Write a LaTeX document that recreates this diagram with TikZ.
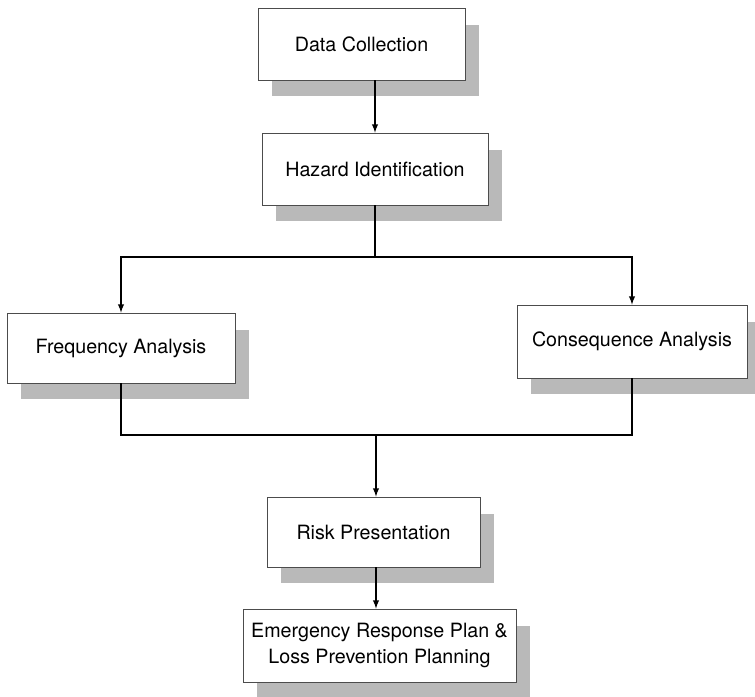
\documentclass[tikz,border=0pt]{standalone}
\usepackage{fontspec}
\setmainfont{TeX Gyre Heros}
\usepackage{tikz}
\usetikzlibrary{arrows,shadows,positioning}

\begin{document}
\begin{tikzpicture}[x=0.02cm,y=-0.02cm,
  stepbox/.style={draw=black!70,line width=0.5pt,fill=white,inner sep=0pt,
    align=center,font=\fontsize{11.2}{15.3}\selectfont,
    drop shadow={shadow xshift=0.28cm,shadow yshift=-0.33cm,fill=gray!55,opacity=1}},
  flow/.style={line width=0.6pt}]
\useasboundingbox (0,0) rectangle (755,697);
% boxes
\node[stepbox,minimum width=4.14cm,minimum height=1.44cm] (data) at (361.5,44) {Data Collection};
\node[stepbox,minimum width=4.52cm,minimum height=1.44cm] (hazard) at (375,169) {Hazard Identification};
\node[stepbox,minimum width=4.56cm,minimum height=1.40cm] (freq) at (121,348) {Frequency Analysis};
\node[stepbox,minimum width=4.60cm,minimum height=1.46cm] (cons) at (632,341.5) {Consequence Analysis};
\node[stepbox,minimum width=4.26cm,minimum height=1.40cm] (risk) at (373.5,532) {Risk Presentation};
\node[stepbox,minimum width=5.46cm,minimum height=1.46cm] (plan) at (379.5,645.5) {Emergency Response Plan \&\\Loss Prevention Planning};
% connectors
\coordinate (split) at (375,257);
\coordinate (merge) at (376,435);
\draw[flow,-latex] (hazard.north |- data.south) -- (hazard.north);
\draw[flow] (hazard.south) -- (split);
\draw[flow,-latex] (split) -| (freq.north);
\draw[flow,-latex] (split) -| (cons.north);
\draw[flow] (freq.south) |- (merge) -| (cons.south);
\draw[flow,-latex] (merge) -- (merge |- risk.north);
\draw[flow,-latex] (merge |- risk.south) -- (merge |- plan.north);
\end{tikzpicture}
\end{document}
